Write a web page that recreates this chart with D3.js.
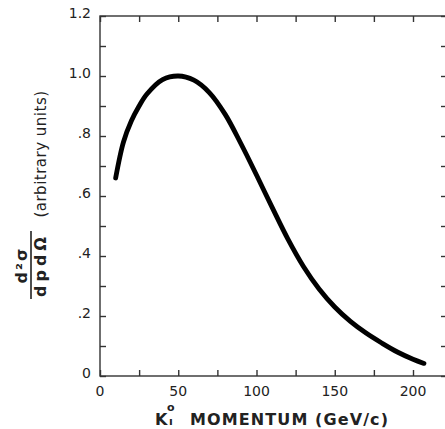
<!DOCTYPE html>
<html>
<head>
<meta charset="utf-8">
<script src="https://cdn.jsdelivr.net/npm/d3@7"></script>
<style>
  body { margin: 0; background: #fff; }
  svg { display: block; }
  text { font-family: "DejaVu Sans", sans-serif; fill: #222; }
</style>
</head>
<body>
<svg id="chart"></svg>
<script>
// K0 momentum (GeV/c) and relative cross section
const momentum = [10, 15, 20, 25, 30, 40, 50, 60, 70, 80, 90, 100, 110, 120, 130, 140, 150, 160, 170, 180, 190, 200, 207];
const crossSection = [0.66, 0.78, 0.85, 0.90, 0.94, 0.988, 1.00, 0.986, 0.944, 0.872, 0.775, 0.67, 0.562, 0.457, 0.365, 0.29, 0.23, 0.182, 0.143, 0.11, 0.08, 0.056, 0.042];

const xTicks = [0, 25, 50, 75, 100, 125, 150, 175, 200];
const xTickLabels = ['0', '', '50', '', '100', '', '150', '', '200'];
const yTicks = [0, 0.1, 0.2, 0.3, 0.4, 0.5, 0.6, 0.7, 0.8, 0.9, 1.0, 1.1, 1.2];
const yTickLabels = ['0', '', '.2', '', '.4', '', '.6', '', '.8', '', '1.0', '', '1.2'];

const width = 445, height = 429;
const margin = { top: 16, left: 100, bottom: 53 };
const plotRight = 447;

const svg = d3.select('#chart').attr('width', width).attr('height', height);

const x = d3.scaleLinear().domain([0, 200]).range([margin.left, 413]);
const y = d3.scaleLinear().domain([0, 1.2]).range([height - margin.bottom, margin.top]);

svg.append('rect')
    .attr('x', margin.left)
    .attr('y', margin.top)
    .attr('width', plotRight - margin.left)
    .attr('height', y(0) - margin.top)
    .attr('fill', 'none')
    .attr('stroke', '#333')
    .attr('stroke-width', 1.4);

// inward ticks on all sides
const tickLen = 6;
const xAxisBottom = svg.append('g')
    .attr('transform', `translate(0, ${y(0)})`)
    .call(d3.axisTop(x).tickValues(xTicks).tickSize(tickLen).tickFormat(''));
const xAxisTop = svg.append('g')
    .attr('transform', `translate(0, ${margin.top})`)
    .call(d3.axisBottom(x).tickValues(xTicks).tickSize(tickLen).tickFormat(''));
const yAxisLeft = svg.append('g')
    .attr('transform', `translate(${margin.left}, 0)`)
    .call(d3.axisRight(y).tickValues(yTicks).tickSize(tickLen).tickFormat(''));
const yAxisRight = svg.append('g')
    .attr('transform', `translate(${plotRight}, 0)`)
    .call(d3.axisLeft(y).tickValues(yTicks).tickSize(tickLen).tickFormat(''));

[xAxisBottom, xAxisTop, yAxisLeft, yAxisRight].forEach(a => {
    a.select('.domain').remove();
    a.selectAll('line').attr('stroke', '#333').attr('stroke-width', 1.4);
});

// tick labels
svg.append('g')
    .selectAll('text')
    .data(xTicks.filter((d, i) => xTickLabels[i] !== ''))
    .join('text')
    .attr('x', d => x(d))
    .attr('y', y(0) + 20)
    .attr('text-anchor', 'middle')
    .attr('font-size', 14)
    .text(d => xTickLabels[xTicks.indexOf(d)]);

svg.append('g')
    .selectAll('text')
    .data(yTicks.filter((d, i) => yTickLabels[i] !== ''))
    .join('text')
    .attr('x', margin.left - 9)
    .attr('y', d => y(d) - 2)
    .attr('text-anchor', 'end')
    .attr('dominant-baseline', 'middle')
    .attr('font-size', 14)
    .text(d => yTickLabels[yTicks.indexOf(d)]);

// curve
const line = d3.line()
    .x((d, i) => x(d))
    .y((d, i) => y(crossSection[i]))
    .curve(d3.curveCatmullRom.alpha(0.5));

svg.append('path')
    .attr('d', line(momentum))
    .attr('fill', 'none')
    .attr('stroke', '#000')
    .attr('stroke-width', 4.8)
    .attr('stroke-linecap', 'round');

// x axis title
const title = svg.append('g').attr('font-weight', 'bold');
title.append('text').attr('x', 155).attr('y', 425).attr('font-size', 16).text('K');
title.append('text').attr('x', 167).attr('y', 411).attr('font-size', 11).text('o');
title.append('text').attr('x', 169).attr('y', 425).attr('font-size', 11).text('ı');
title.append('text')
    .attr('x', 190).attr('y', 425)
    .attr('font-size', 16)
    .attr('textLength', 198)
    .attr('lengthAdjust', 'spacing')
    .text('MOMENTUM (GeV/c)');

// y axis title
svg.append('text')
    .attr('transform', 'translate(46, 154) rotate(-90)')
    .attr('text-anchor', 'middle')
    .attr('font-size', 15)
    .attr('letter-spacing', 0.5)
    .text('(arbitrary units)');

const frac = svg.append('g').attr('transform', 'translate(31, 265) rotate(-90)');
frac.append('text')
    .attr('y', -4)
    .attr('text-anchor', 'middle')
    .attr('font-size', 16)
    .attr('font-weight', 'bold')
    .attr('letter-spacing', 2)
    .text('d²σ');
frac.append('line')
    .attr('x1', -34).attr('x2', 34)
    .attr('stroke', '#222').attr('stroke-width', 1.6);
frac.append('text')
    .attr('y', 15)
    .attr('text-anchor', 'middle')
    .attr('font-size', 16)
    .attr('font-weight', 'bold')
    .attr('letter-spacing', 4)
    .text('dpdΩ');
</script>
</body>
</html>
